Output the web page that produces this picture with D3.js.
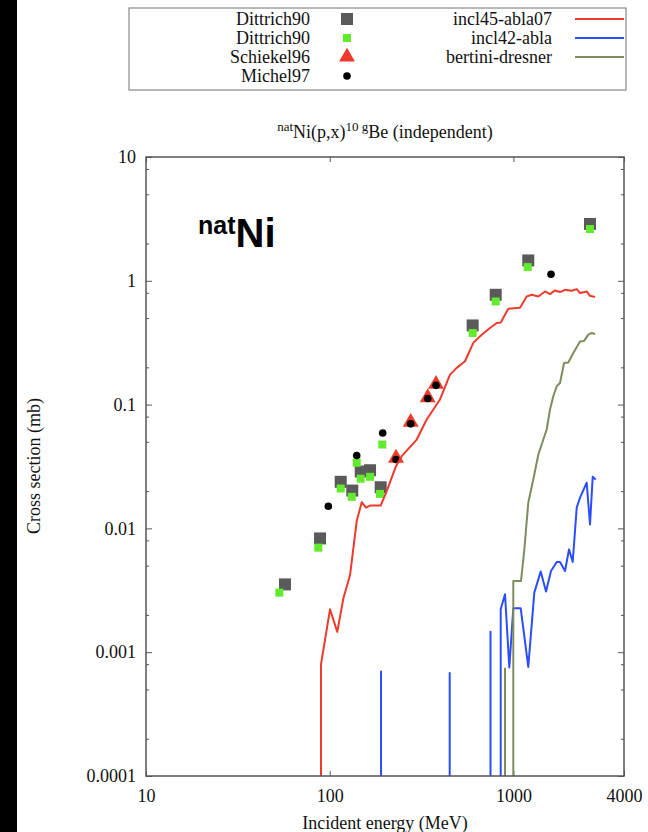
<!DOCTYPE html>
<html><head><meta charset="utf-8">
<script src="https://cdn.jsdelivr.net/npm/d3@7"></script>
<style>
html,body{margin:0;padding:0;background:#fff;}
svg{display:block;}
text{fill:#111;}
</style></head>
<body>
<svg id="chart" width="648" height="832" font-family="Liberation Serif, Times New Roman, serif"></svg>
<script>
// ---- data ----
const dittrichGray = [[57.1,0.00353],[88.6,0.0083],[114.8,0.0238],[132.7,0.0202],[147.5,0.0288],[165.8,0.0295],[189.5,0.0215],[600,0.436],[801,0.771],[1205,1.46],[2612,2.88]];
const dittrichGreen = [[53.2,0.00303],[86.7,0.00699],[114.8,0.0210],[131.8,0.0180],[140.3,0.0339],[147.5,0.0252],[165.8,0.0261],[187.8,0.0190],[193.3,0.0476],[600,0.379],[801,0.681],[1196,1.29],[2612,2.62]];
const schiekel96 = [[229.6,0.037],[276,0.072],[341.6,0.114],[379,0.146]];
const michel97 = [[98.3,0.0151],[140.3,0.0388],[194.3,0.059],[229.6,0.036],[276,0.0699],[341.6,0.112],[379,0.143],[1602,1.13]];
const incl45 = [[80,0],[89.7,0.0008],[100.4,0.00222],[110,0.00146],[118.6,0.00271],[129,0.00418],[140.3,0.01146],[149.4,0.0163],[157.6,0.0147],[165.8,0.0153],[189.5,0.0153],[204.3,0.0200],[229.6,0.0318],[246.6,0.0383],[297.6,0.0522],[337.3,0.0757],[398.5,0.110],[451.7,0.1746],[491.2,0.198],[545.2,0.224],[604.9,0.315],[672.2,0.367],[745.8,0.416],[811.4,0.456],[852.9,0.461],[938,0.594],[1086,0.605],[1181,0.747],[1258,0.771],[1367,0.747],[1486,0.820],[1582,0.781],[1685,0.836],[1794,0.811],[1910,0.846],[2077,0.830],[2211,0.857],[2305,0.796],[2506,0.820],[2612,0.757],[2781,0.740]];
const incl42 = [[180,0],[190.3,0.0007],[200,0],[440,0],[450,0.00068],[460,0],[740,0],[750.5,0.00146],[800,0],[852.9,0.00222],[900.2,0.00294],[950,0.000753],[998.8,0.00226],[1096,0.00226],[1205,0.00076],[1299.5,0.00303],[1408,0.00448],[1505,0.00309],[1602,0.00453],[1721,0.00535],[1794,0.00535],[1910,0.00453],[2008,0.00677],[2103,0.00535],[2211,0.0147],[2305,0.0177],[2506,0.0234],[2612,0.01077],[2702,0.0261],[2806,0.0248]];
const bertini = [[890,0],[900.2,0.00074],[950,0],[998.8,0.00376],[1100,0.00376],[1147,0.00677],[1205,0.0161],[1283,0.0248],[1367,0.0395],[1455,0.0522],[1518,0.0629],[1582,0.0912],[1649,0.1167],[1721,0.1405],[1794,0.1496],[1886,0.217],[1990,0.219],[2119,0.261],[2305,0.324],[2423,0.327],[2557,0.367],[2669,0.379],[2781,0.372]];

const xTicks = [10,100,1000,4000];
const xTickLabels = ["10","100","1000","4000"];
const yTicks = [10,1,0.1,0.01,0.001,0.0001];
const yTickLabels = ["10","1","0.1","0.01","0.001","0.0001"];
const yMinorMult = [2,5,8];
const pointLegend = ["Dittrich90","Dittrich90","Schiekel96","Michel97"];
const lineLegend = ["incl45-abla07","incl42-abla","bertini-dresner"];

// ---- styling ----
const C = {gray:"#5a5a5a", lime:"#62ea2c", red:"#ee3a2c", blue:"#2a4dff", olive:"#7e8d5c", frame:"#555"};
const SERIF = "Liberation Serif, Times New Roman, serif";

const svg = d3.select("#chart");
const L=146, R=624, T=157, B=776;
const x = d3.scaleLog().domain([10,4000]).range([L,R]);
const y = d3.scaleLog().domain([1e-4,10]).range([B,T]);

// left black bar
svg.append("rect").attr("x",0).attr("y",0).attr("width",17).attr("height",832).attr("fill","#000");

// minor ticks
const minor = [];
yTicks.forEach(t => { if (t<10) yMinorMult.forEach(m => minor.push(t*m)); });
svg.append("g").attr("transform",`translate(${L},0)`)
  .call(d3.axisLeft(y).tickValues(minor).tickSize(-3).tickFormat(""))
  .call(g=>{g.select(".domain").remove(); g.selectAll("line").attr("stroke",C.frame);});
svg.append("g").attr("transform",`translate(${R},0)`)
  .call(d3.axisRight(y).tickValues(minor).tickSize(-3).tickFormat(""))
  .call(g=>{g.select(".domain").remove(); g.selectAll("line").attr("stroke",C.frame);});

// major y ticks
svg.append("g").attr("transform",`translate(${L},0)`)
  .call(d3.axisLeft(y).tickValues(yTicks).tickSize(-6).tickPadding(10).tickFormat((d,i)=>yTickLabels[i]))
  .call(g=>{g.select(".domain").remove(); g.selectAll("line").attr("stroke",C.frame);
    g.selectAll("text").attr("font-size",18).attr("font-family",SERIF).attr("fill","#111");});
svg.append("g").attr("transform",`translate(${R},0)`)
  .call(d3.axisRight(y).tickValues(yTicks).tickSize(-6).tickFormat(""))
  .call(g=>{g.select(".domain").remove(); g.selectAll("line").attr("stroke",C.frame);});

// x ticks
svg.append("g").attr("transform",`translate(0,${B})`)
  .call(d3.axisBottom(x).tickValues(xTicks).tickSize(-5).tickPadding(13).tickFormat((d,i)=>xTickLabels[i]))
  .call(g=>{g.select(".domain").remove(); g.selectAll("line").attr("stroke",C.frame);
    g.selectAll("text").attr("font-size",18).attr("font-family",SERIF).attr("fill","#111");});
svg.append("g").attr("transform",`translate(0,${T})`)
  .call(d3.axisTop(x).tickValues(xTicks).tickSize(-5).tickFormat(""))
  .call(g=>{g.select(".domain").remove(); g.selectAll("line").attr("stroke",C.frame);});

// clip
svg.append("clipPath").attr("id","clip").append("rect").attr("x",L).attr("y",T).attr("width",R-L).attr("height",B-T);
const plot = svg.append("g").attr("clip-path","url(#clip)");

// points
const sq = (data, size, color) => plot.append("g").selectAll("rect").data(data).join("rect")
  .attr("x",d=>x(d[0])-size/2).attr("y",d=>y(d[1])-size/2).attr("width",size).attr("height",size).attr("fill",color);
sq(dittrichGray,12,C.gray);
sq(dittrichGreen,8,C.lime);
const tri = d3.symbol().type(d3.symbolTriangle).size(110);
plot.append("g").selectAll("path").data(schiekel96).join("path")
  .attr("transform",d=>`translate(${x(d[0])},${y(d[1])})`).attr("d",tri).attr("fill",C.red);
plot.append("g").selectAll("circle").data(michel97).join("circle")
  .attr("cx",d=>x(d[0])).attr("cy",d=>y(d[1])).attr("r",3.8).attr("fill","#000");

// model lines: zero values (undefined on log axis) drop to the bottom edge
function runs(data){
  const out=[]; let cur=null;
  data.forEach((d,i)=>{
    if (d[1]>0){
      if(!cur){cur=[]; if(i>0) cur.push([x(d[0]),B+2]);}
      cur.push([x(d[0]),y(d[1])]);
    } else if (cur){ cur.push([cur[cur.length-1][0],B+2]); out.push(cur); cur=null; }
  });
  if(cur) out.push(cur);
  return out;
}
const line = d3.line();
[[incl45,C.red],[incl42,C.blue],[bertini,C.olive]].forEach(([data,col])=>{
  plot.append("g").selectAll("path").data(runs(data)).join("path")
    .attr("d",line).attr("fill","none").attr("stroke",col).attr("stroke-width",2).attr("stroke-linejoin","round");
});

// frame
svg.append("rect").attr("x",L).attr("y",T).attr("width",R-L).attr("height",B-T)
  .attr("fill","none").attr("stroke",C.frame).attr("stroke-width",1.5);

// axis labels
svg.append("text").attr("x",385).attr("y",829).attr("text-anchor","middle").attr("font-size",18).text("Incident energy (MeV)");
svg.append("text").attr("transform","translate(40,466) rotate(-90)").attr("text-anchor","middle").attr("font-size",18).text("Cross section (mb)");

// title
const title = svg.append("text").attr("x",385).attr("y",138).attr("text-anchor","middle").attr("font-size",18);
title.append("tspan").attr("font-size",13).attr("dy",-7).text("nat");
title.append("tspan").attr("dy",7).text("Ni(p,x)");
title.append("tspan").attr("font-size",13).attr("dy",-7).text("10 g");
title.append("tspan").attr("dy",7).text("Be (independent)");

// natNi label
const ni = svg.append("text").attr("x",198).attr("y",247)
  .attr("font-family","Liberation Sans, Arial, Helvetica, sans-serif").attr("font-weight","bold").style("fill","#000");
ni.append("tspan").attr("font-size",25).attr("dy",-13).text("nat");
ni.append("tspan").attr("font-size",40).attr("dy",13).text("Ni");

// legend
svg.append("rect").attr("x",129).attr("y",8).attr("width",497).attr("height",82).attr("fill","#fff").attr("stroke","#888").attr("stroke-width",1.2);
const rowY = i => 19 + i*19;
const lg = svg.append("g");
lg.selectAll("text.pl").data(pointLegend).join("text").attr("class","pl")
  .attr("x",310).attr("y",(d,i)=>rowY(i)+6).attr("text-anchor","end").attr("font-size",18).text(d=>d);
lg.append("rect").attr("x",347-6).attr("y",rowY(0)-6).attr("width",12).attr("height",12).attr("fill",C.gray);
lg.append("rect").attr("x",347-4).attr("y",rowY(1)-4).attr("width",8).attr("height",8).attr("fill",C.lime);
lg.append("path").attr("transform",`translate(347,${rowY(2)})`).attr("d",tri).attr("fill",C.red);
lg.append("circle").attr("cx",347).attr("cy",rowY(3)).attr("r",3.8).attr("fill","#000");
const lineCols=[C.red,C.blue,C.olive];
lg.selectAll("text.ll").data(lineLegend).join("text").attr("class","ll")
  .attr("x",552).attr("y",(d,i)=>rowY(i)+6).attr("text-anchor","end").attr("font-size",18).text(d=>d);
lg.selectAll("line.ll").data(lineLegend).join("line").attr("class","ll")
  .attr("x1",575).attr("x2",624).attr("y1",(d,i)=>rowY(i)).attr("y2",(d,i)=>rowY(i))
  .attr("stroke",(d,i)=>lineCols[i]).attr("stroke-width",2);
</script>
</body></html>
